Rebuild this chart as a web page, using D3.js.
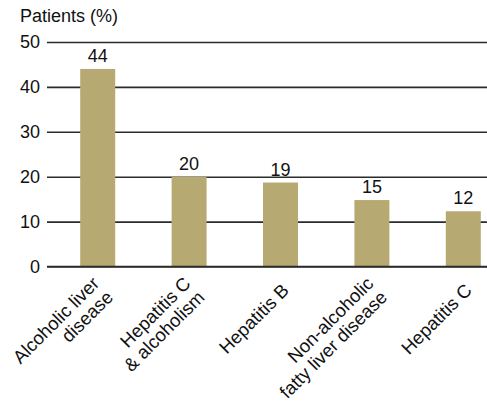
<!DOCTYPE html>
<html>
<head>
<meta charset="utf-8">
<style>
     body {
          margin: 0;
          font-family: "Liberation Sans", Arial, Helvetica, sans-serif;
          background: #fff;
     }
     .bar {
          fill: #b6aa72;
     }
     .y.axis line {
          stroke: #2b2b2b;
          stroke-width: 1.6px;
     }
     .y.axis path {
          display: none;
     }
     .y.axis text {
          font-size: 18px;
          fill: #111;
     }
     .value-label, .title {
          font-size: 18px;
          fill: #111;
     }
     .cat-label {
          font-size: 18.5px;
          fill: #111;
     }
</style>
</head>
<body>
<script src="https://d3js.org/d3.v7.min.js"></script>
<script>

     var categories = ["Alcoholic liver disease", "Hepatitis C & alcoholism", "Hepatitis B",
                       "Non-alcoholic fatty liver disease", "Hepatitis C"];
     var categoryLines = [["Alcoholic liver", "disease"], ["Hepatitis C", "& alcoholism"], ["Hepatitis B"],
                          ["Non-alcoholic", "fatty liver disease"], ["Hepatitis C"]];
     var values = [44, 20, 18.7, 14.8, 12.3];
     var valueLabels = ["44", "20", "19", "15", "12"];
     var yTicks = [0, 10, 20, 30, 40, 50];

     var width = 487, height = 401;
     var axisLeftX = 47;

     var svg = d3.select("body").append("svg")
          .attr("width", width)
          .attr("height", height);

     var x = d3.scaleBand()
          .domain(categories)
          .range([52, 509])
          .paddingInner(0.617)
          .paddingOuter(0.3085);

     var y = d3.scaleLinear()
          .domain([0, 50])
          .range([266.5, 42]);

     var yAxis = d3.axisLeft(y)
          .tickValues(yTicks)
          .tickSize(-(width - axisLeftX))
          .tickPadding(7);

     svg.append("text")
          .attr("class", "title")
          .attr("x", 20)
          .attr("y", 22)
          .text("Patients (%)");

     svg.append("g")
          .attr("class", "y axis")
          .attr("transform", "translate(" + axisLeftX + ",0)")
          .call(yAxis);

     var data = categories.map(function(c, i) {
          return {cat: c, value: values[i], label: valueLabels[i], lines: categoryLines[i]};
     });

     svg.append("g").selectAll("rect")
          .data(data)
       .enter().append("rect")
          .attr("class", "bar")
          .attr("x", function(d) { return x(d.cat); })
          .attr("y", function(d) { return y(d.value); })
          .attr("width", x.bandwidth())
          .attr("height", function(d) { return y(0) - y(d.value); });

     // redraw zero line over the bars
     svg.append("line")
          .attr("x1", axisLeftX).attr("x2", width)
          .attr("y1", y(0)).attr("y2", y(0))
          .attr("stroke", "#2b2b2b")
          .attr("stroke-width", 1.6);

     svg.append("g").selectAll("text")
          .data(data)
       .enter().append("text")
          .attr("class", "value-label")
          .attr("text-anchor", "middle")
          .attr("x", function(d) { return x(d.cat) + x.bandwidth() / 2; })
          .attr("y", function(d) { return y(d.value) - 7; })
          .text(function(d) { return d.label; });

     var lineH = 19.5;
     var labels = svg.append("g").selectAll("g")
          .data(data)
       .enter().append("g")
          .attr("transform", function(d) {
               return "translate(" + (x(d.cat) + x.bandwidth() / 2 + 5) + ",287) rotate(-45)";
          });

     labels.append("text")
          .attr("class", "cat-label")
          .attr("text-anchor", "end")
          .each(function(d) {
               var t = d3.select(this);
               var n = d.lines.length;
               d.lines.forEach(function(line, i) {
                    t.append("tspan")
                         .attr("x", 0)
                         .attr("y", (i - (n - 1) / 2) * lineH)
                         .attr("dy", "0.35em")
                         .text(line);
               });
          });

</script>
</body>
</html>
